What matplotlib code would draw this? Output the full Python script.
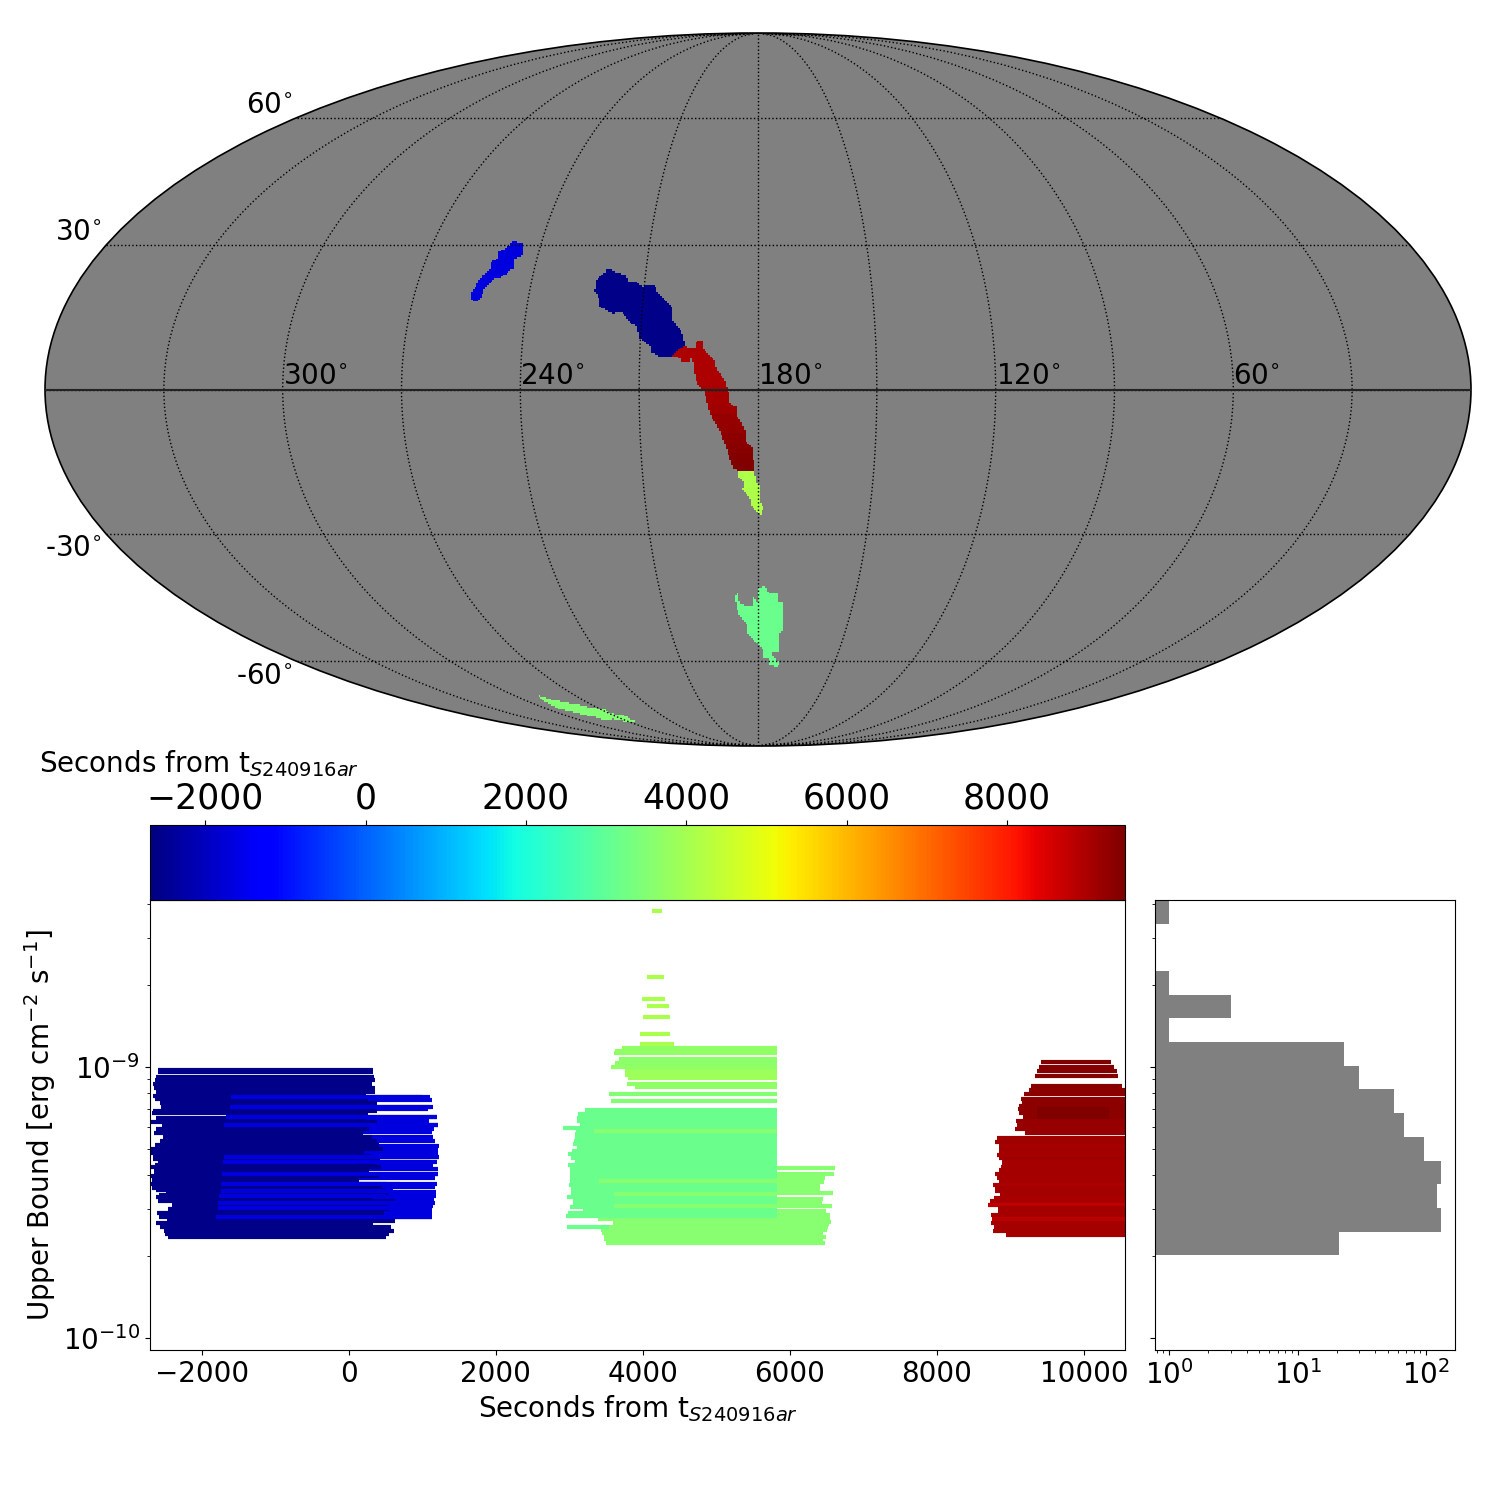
import numpy as np
import matplotlib
matplotlib.use('Agg')
import matplotlib.pyplot as plt
from matplotlib.colors import Normalize
from matplotlib.cm import ScalarMappable
from matplotlib.path import Path

# --- sky regions: outlines in degrees, with their time in seconds
blue_lon = [248.0, 245.3, 244.1, 246.0, 245.5, 248.2, 250.3, 252.2, 252.1, 253.9, 255.0, 255.1, 254.3, 253.6, 252.0, 252.0, 250.6, 251.0, 248.8]
blue_lat = [31.0, 30.6, 28.1, 27.0, 25.3, 23.2, 22.8, 20.6, 19.0, 17.9, 19.0, 20.2, 21.7, 23.4, 24.9, 26.4, 27.5, 28.5, 29.8]
dark_lon = [220.2, 218.0, 215.4, 214.4, 212.6, 210.7, 207.2, 206.8, 204.2, 202.1, 202.2, 199.5, 198.6, 201.6, 204.8, 207.0, 207.5, 210.4, 211.1, 212.9, 215.3, 217.4, 221.0, 221.6, 223.0, 222.8, 220.5]
dark_lat = [25.2, 24.2, 23.8, 22.4, 22.4, 21.3, 21.5, 20.5, 18.2, 16.8, 14.4, 12.0, 9.2, 6.8, 6.8, 7.5, 9.0, 10.6, 13.0, 13.7, 16.1, 15.6, 17.0, 18.9, 20.3, 22.7, 24.5]
red_lon = [201.9, 199.0, 196.2, 195.6, 194.2, 194.2, 190.9, 190.7, 188.8, 187.5, 187.1, 185.2, 185.2, 183.3, 182.9, 181.6, 181.0, 181.0, 185.5, 186.4, 187.6, 188.5, 189.5, 191.3, 191.9, 192.6, 193.6, 195.3, 195.9, 196.7, 197.2, 199.3, 199.8]
red_lat = [6.9, 8.9, 8.4, 10.0, 10.2, 8.6, 5.8, 4.5, 2.4, 0.0, -2.7, -3.8, -5.5, -8.2, -11.0, -11.7, -15.6, -16.6, -16.6, -16.2, -13.1, -11.0, -8.9, -6.2, -5.5, -3.4, 0.0, 1.0, 2.7, 6.9, 5.8, 5.6, 6.5]
# the red region gets later towards the south
red_band_lat = [-15, -13, -11, -9, -7, -5, -3, -1, 1]
red_band_t = [9440, 9400, 9340, 9300, 9250, 9190, 9130, 9070, 9020, 8980]
tail_lon = [184.8, 181.0, 180.5, 179.5, 179.7, 178.7, 179.0, 180.0, 181.7, 181.7, 184.0, 183.8, 185.4]
tail_lat = [-15.8, -15.8, -19.2, -19.6, -23.0, -24.2, -26.5, -25.4, -24.2, -23.0, -20.6, -18.9, -17.9]
mint_lon = [179.9, 177.9, 176.8, 174.1, 173.6, 172.2, 171.4, 172.7, 172.2, 174.9, 173.0, 171.1, 172.3, 175.5, 176.1, 178.0, 178.3, 180.3, 183.7, 183.8, 185.1, 186.4, 187.2, 186.5, 185.7, 183.6, 181.5, 181.5, 180.2]
mint_lat = [-42.1, -41.7, -43.2, -43.2, -45.4, -45.5, -51.9, -53.2, -57.4, -57.7, -59.7, -60.3, -61.4, -60.8, -59.0, -59.0, -56.8, -55.3, -52.8, -50.8, -49.5, -47.9, -44.4, -42.7, -45.5, -46.4, -46.2, -44.0, -45.5]
strip_lon = [287.8, 286.5, 282.4, 278.6, 274.0, 267.6, 269.6, 263.7, 264.9, 272.3, 275.5, 283.4, 284.4, 287.3, 290.0, 292.3, 292.2, 289.9]
strip_lat = [-69.6, -70.6, -71.6, -72.1, -73.2, -74.0, -75.3, -75.7, -78.2, -78.2, -77.2, -77.7, -76.7, -75.7, -74.5, -73.8, -72.4, -70.6]
sky_regions = [
    (blue_lon, blue_lat, -1670),
    (dark_lon, dark_lat, -2580),
    (tail_lon, tail_lat, 4110),
    (mint_lon, mint_lat, 3140),
    (strip_lon, strip_lat, 3500),
]

lon_labels = [300, 240, 180, 120, 60]
lat_labels = [60, 30, -30, -60]

# --- upper limits: log10(flux), start and stop in seconds
dark_ub = [-9.011, -9.018, -9.038, -9.048, -9.063, -9.078, -9.092, -9.107, -9.117, -9.132, -9.146, -9.161, -9.171, -9.188, -9.203, -9.218, -9.230, -9.245, -9.260, -9.274, -9.289, -9.301, -9.319, -9.328, -9.338, -9.351, -9.360, -9.370, -9.379, -9.387, -9.402, -9.417, -9.432, -9.447, -9.455, -9.464, -9.472, -9.481, -9.496, -9.510, -9.523, -9.538, -9.552, -9.567, -9.577, -9.589, -9.604, -9.616, -9.626]
dark_start = [-2598, -2598, -2629, -2638, -2661, -2652, -2629, -2666, -2638, -2566, -2557, -2666, -2679, -2625, -2693, -2543, -2629, -2652, -2530, -2570, -2638, -2693, -2693, -2666, -2666, -2598, -2638, -2720, -2652, -2652, -2720, -2679, -2720, -2675, -2629, -2493, -2584, -2620, -2598, -2403, -2462, -2611, -2584, -2475, -2625, -2566, -2516, -2502, -2462]
dark_stop = [326, 326, 340, 353, 317, 362, 362, 236, 263, 380, 263, 380, 263, 240, 390, 236, 272, 199, 317, 390, 408, 471, 204, 317, 430, 430, 362, 440, 272, 226, 417, 136, 521, 453, 498, 530, 476, 317, 634, 553, 566, 476, 603, 625, 326, 575, 612, 544, 507]
blue_ub = [-9.112, -9.122, -9.146, -9.156, -9.186, -9.198, -9.213, -9.228, -9.240, -9.260, -9.274, -9.292, -9.306, -9.316, -9.333, -9.351, -9.363, -9.378, -9.395, -9.410, -9.432, -9.444, -9.461, -9.476, -9.488, -9.503, -9.513, -9.525, -9.538, -9.552]
blue_start = [-1609, -1609, -1623, -1623, -1677, -1677, -1700, -1700, -1700, -1714, -1714, -1700, -1700, -1700, -1700, -1714, -1714, -1714, -1723, -1732, -1741, -1741, -1741, -1768, -1768, -1777, -1777, -1777, -1777, -1804]
blue_stop = [1101, 1129, 1142, 1074, 1196, 1088, 1210, 1156, 1129, 1142, 1169, 1224, 1215, 1215, 1224, 1201, 1151, 1210, 1210, 1169, 1196, 1178, 1183, 1183, 1156, 1169, 1151, 1138, 1138, 1129]
blue_over_ub = [-9.112, -9.146, -9.186, -9.213, -9.333, -9.351, -9.395, -9.432, -9.456, -9.476, -9.503, -9.519, -9.552]
blue_over_start = [-1609, -1623, -1677, -1700, -1700, -1714, -1723, -1741, -1741, -1768, -1777, -1777, -1804]
blue_over_stop = [1000, 1100, 1196, 1210, 1224, 1100, 1210, 700, 600, 500, 650, 600, 1129]

sparse_ub = [-8.424, -8.668, -8.749, -8.775, -8.816, -8.878, -8.915]
sparse_start = [4121, 4053, 3985, 4053, 3998, 3958, 3967]
sparse_stop = [4257, 4284, 4297, 4352, 4366, 4366, 4420]
lime_ub = [-8.930, -8.940, -8.950, -8.971, -8.984, -8.999, -9.014, -9.028, -9.042, -9.063, -9.073, -9.100, -9.126]
lime_start = [3713, 3627, 3604, 3672, 3627, 3563, 3754, 3754, 3794, 3781, 3890, 3536, 3563]
lime_stop = [5821] * 13
lime_t = [3700, 3700, 3700, 3650, 3650, 3700, 3850, 3900, 3900, 3700, 3700, 3500, 3500]
light_ub = [-9.373, -9.395, -9.410, -9.424, -9.439, -9.451, -9.466, -9.487, -9.501, -9.513, -9.530, -9.546, -9.562, -9.572, -9.580, -9.589, -9.601, -9.611, -9.626, -9.636, -9.648]
light_start = [3649, 3400, 3400, 3409, 3409, 3500, 3604, 3604, 3500, 3604, 3581, 3400, 3386, 3590, 3590, 3423, 3430, 3441, 3468, 3468, 3495]
light_stop = [6609, 6596, 6473, 6460, 6414, 6414, 6582, 6446, 6437, 6569, 6491, 6541, 6541, 6555, 6530, 6514, 6500, 6446, 6487, 6446, 6473]
mint_ub = [-9.159, -9.174, -9.188, -9.199, -9.210, -9.225, -9.236, -9.249, -9.260, -9.272, -9.284, -9.296, -9.309, -9.321, -9.335, -9.348, -9.363, -9.378, -9.392, -9.407, -9.422, -9.437, -9.451, -9.466, -9.478, -9.491, -9.503, -9.515, -9.528, -9.540, -9.550, -9.589]
mint_start = [3210, 3114, 3101, 3105, 3142, 2910, 3087, 3074, 3083, 3060, 3046, 3105, 3037, 2978, 3019, 3074, 2978, 3006, 3006, 3006, 3006, 2992, 3019, 3019, 2965, 3046, 3046, 3006, 3182, 2978, 2951, 2965]
mint_stop = [5821] * 31 + [3540]
lime_over_ub = [-9.236, -9.422, -9.470, -9.513]
lime_over_start = [3332, 3409, 3604, 3604]
lime_over_stop = [5821, 5821, 5821, 5821]

red_ub = [-8.982, -9.001, -9.015, -9.033, -9.069, -9.085, -9.100, -9.117, -9.132, -9.144, -9.156, -9.171, -9.186, -9.199, -9.214, -9.228, -9.242, -9.263, -9.277, -9.292, -9.306, -9.325, -9.337, -9.349, -9.368, -9.380, -9.395, -9.410, -9.422, -9.436, -9.446, -9.456, -9.470, -9.483, -9.496, -9.508, -9.519, -9.530, -9.545, -9.561, -9.576, -9.590, -9.604, -9.619, -9.156, -9.171, -9.186, -9.315, -9.358]
red_start = [9411, 9384, 9357, 9330, 9275, 9248, 9180, 9139, 9153, 9120, 9098, 9112, 9166, 9071, 9085, 9058, 9194, 8813, 8786, 8840, 8840, 8813, 8850, 8881, 8867, 8840, 8786, 8813, 8840, 8758, 8786, 8786, 8854, 8772, 8718, 8690, 8826, 8826, 8731, 8745, 8731, 8772, 8758, 8935, 9361, 9361, 9361, 8840, 8881]
red_stop = [10363, 10404, 10445, 10458, 10513] + [10700] * 39 + [10336, 10336, 10336, 10700, 10700]
red_t = [9440, 9420, 9420, 9400, 9340, 9320, 9280, 9280, 9280, 9280, 9300, 9300, 9300, 9200, 9200, 9200, 9200, 9100, 9100, 9030, 9100, 9030, 9120, 9080, 9080, 9050, 9050, 9050, 9050, 8950, 9050, 9050, 9050, 9020, 9020, 8800, 9050, 9050, 9050, 8850, 9050, 9050, 9050, 9050, 9440, 9440, 9440, 9050, 9080]

# --- histogram of the upper limits
hist_edges = [-9.694, -9.609, -9.520, -9.432, -9.347, -9.258, -9.170, -9.081, -8.996, -8.908, -8.819, -8.734, -8.646, -8.557, -8.472, -8.386]
hist_counts = [21, 129, 122, 129, 95, 67, 56, 30, 23, 1, 3, 1, 0, 0, 1]

cbar_ticks = [-2000, 0, 2000, 4000, 6000, 8000]
time_ticks = [-2000, 0, 2000, 4000, 6000, 8000, 10000]
ub_ticks = [1e-10, 1e-9]

cmap = plt.get_cmap('jet')
norm = Normalize(vmin=-2690, vmax=9470)
BAR_LW = 3


def bars(ax, ub, start, stop, t):
    ax.hlines(10.0 ** np.array(ub), start, stop, colors=cmap(norm(np.asarray(t))),
              linewidth=BAR_LW, capstyle='butt')


def inside(lon, lat, sky_lon, sky_lat):
    outline = Path(np.column_stack([lon, lat]))
    return outline.contains_points(np.column_stack([sky_lon.ravel(), sky_lat.ravel()])).reshape(sky_lon.shape)


fig = plt.figure(figsize=(15, 15), dpi=100)

# Mollweide map
sky = fig.add_axes([45 / 1500, 754 / 1500, 1426 / 1500, 713 / 1500], projection='mollweide')
sky.set_facecolor('#808080')
sky.set_longitude_grid(30)
sky.set_latitude_grid(30)
sky.set_longitude_grid_ends(90)
sky.grid(True, linestyle=':', color='black', linewidth=1, alpha=1)
sky.set_xticklabels([])
sky.set_yticklabels([])
for spine in sky.spines.values():
    spine.set_linewidth(1.2)

# map cells, square in the projected plane like a mollview image
plane_x = np.linspace(-2 * np.sqrt(2), 2 * np.sqrt(2), 801)
plane_y = np.linspace(-1.41, 1.41, 400)
to_sky = sky.transProjection.inverted()
edge_x, edge_y = np.meshgrid(plane_x, plane_y)
edges = to_sky.transform(np.column_stack([edge_x.ravel(), edge_y.ravel()]))
mesh_lon = edges[:, 0].reshape(edge_x.shape)
mesh_lat = edges[:, 1].reshape(edge_x.shape)
mid_x, mid_y = np.meshgrid((plane_x[:-1] + plane_x[1:]) / 2, (plane_y[:-1] + plane_y[1:]) / 2)
mids = to_sky.transform(np.column_stack([mid_x.ravel(), mid_y.ravel()]))
cell_lon = 180 - np.degrees(mids[:, 0]).reshape(mid_x.shape)
cell_lat = np.degrees(mids[:, 1]).reshape(mid_x.shape)

cell_t = np.full(cell_lon.shape, np.nan)
for lon, lat, t in sky_regions:
    cell_t[inside(lon, lat, cell_lon, cell_lat)] = t
in_red = inside(red_lon, red_lat, cell_lon, cell_lat)
cell_t[in_red] = np.array(red_band_t)[np.digitize(cell_lat[in_red], red_band_lat)]
sky.pcolormesh(mesh_lon, mesh_lat, np.ma.masked_invalid(cell_t), cmap=cmap, norm=norm,
               shading='flat', antialiased=False, linewidth=0, zorder=1)

sky.plot(np.radians([-180, 180]), [0, 0], color='#222222', linewidth=1.5, zorder=4)
for lon in lon_labels:
    sky.text(np.radians(180 - lon), 0, f'{lon}$^{{\\circ}}$', fontsize=20, ha='left', va='bottom', zorder=5)
for lat in lat_labels:
    sky.annotate(f'{lat}$^{{\\circ}}$', (-np.pi, np.radians(lat)), xytext=(-2.6, -0.7),
                 textcoords='offset points', fontsize=20, ha='right',
                 va='bottom' if lat > 0 else 'top')

# Upper limits vs time
ax = fig.add_axes([0.1, 0.1, 0.65, 0.3])
bars(ax, blue_ub, blue_start, blue_stop, -1670)
bars(ax, dark_ub, dark_start, dark_stop, -2580)
bars(ax, blue_over_ub, blue_over_start, blue_over_stop, -1670)
bars(ax, sparse_ub, sparse_start, sparse_stop, 4100)
bars(ax, lime_ub, lime_start, lime_stop, lime_t)
bars(ax, light_ub, light_start, light_stop, 3560)
bars(ax, mint_ub, mint_start, mint_stop, 3140)
bars(ax, lime_over_ub, lime_over_start, lime_over_stop, 3560)
bars(ax, red_ub, red_start, red_stop, red_t)
ax.set_yscale('log')
ax.set_xlim(-2705, 10560)
ax.set_ylim(10 ** -10.044, 10 ** -8.384)
ax.set_xticks(time_ticks)
ax.set_yticks(ub_ticks)
ax.tick_params(labelsize=20)
ax.set_xlabel('Seconds from t$_{S240916ar}$', fontsize=20)
ax.set_ylabel('Upper Bound [erg cm$^{-2}$ s$^{-1}$]', fontsize=20)

# Colorbar on top of the panel
cax = fig.add_axes([0.1, 0.4, 0.65, 0.05])
cbar = fig.colorbar(ScalarMappable(norm=norm, cmap=cmap), cax=cax, orientation='horizontal')
cbar.set_ticks(cbar_ticks)
cax.xaxis.tick_top()
cax.tick_params(labelsize=25)
fig.text(39 / 1500, 0.4907, 'Seconds from t$_{S240916ar}$', fontsize=20, ha='left', va='center')

# Side histogram
hax = fig.add_axes([0.77, 0.1, 0.2, 0.3], sharey=ax)
hax.stairs(hist_counts, 10.0 ** np.array(hist_edges), orientation='horizontal', fill=True,
           color='gray', baseline=1e-3)
hax.set_xscale('log')
hax.set_xlim(0.775, 167)
hax.tick_params(labelsize=20)
hax.tick_params(axis='y', which='both', labelleft=False)

plt.savefig('out.png', dpi=100)
plt.close(fig)
